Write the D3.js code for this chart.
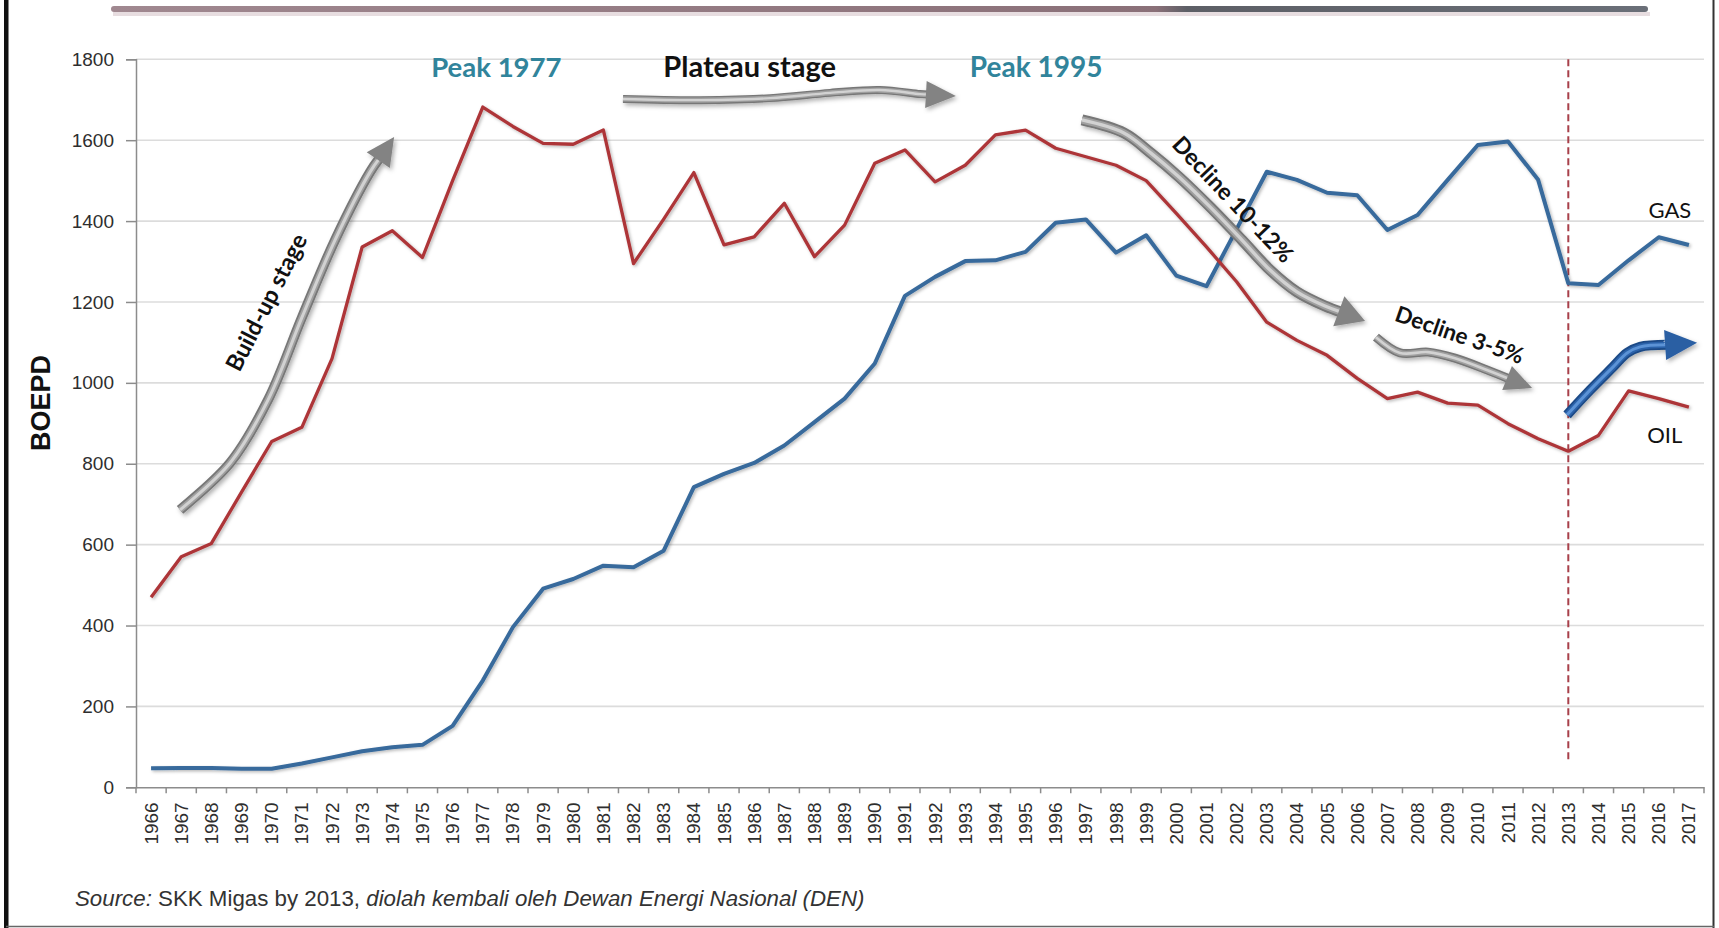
<!DOCTYPE html>
<html><head><meta charset="utf-8">
<script src="https://cdn.jsdelivr.net/npm/d3@7"></script>
<style>html,body{margin:0;padding:0;background:#fff;} svg{display:block;}</style>
</head><body><svg id="chart" width="1719" height="928"></svg>
<script>
// ---- data ----
const years = [1966,1967,1968,1969,1970,1971,1972,1973,1974,1975,1976,1977,1978,1979,1980,1981,1982,1983,1984,1985,1986,1987,1988,1989,1990,1991,1992,1993,1994,1995,1996,1997,1998,1999,2000,2001,2002,2003,2004,2005,2006,2007,2008,2009,2010,2011,2012,2013,2014,2015,2016,2017];
const oil = [470,570,603,730,855,890,1060,1336,1376,1310,1500,1682,1634,1592,1590,1625,1295,1405,1520,1341,1361,1444,1312,1390,1543,1576,1497,1538,1613,1625,1580,1559,1538,1500,1419,1336,1250,1150,1105,1068,1011,961,977,950,945,899,862,831,870,980,961,940];
const gas = [47,48,48,46,46,59,74,89,99,105,152,264,396,491,515,548,544,585,742,775,802,845,903,961,1048,1215,1262,1301,1303,1324,1396,1404,1322,1365,1265,1239,1380,1522,1502,1470,1464,1378,1415,1502,1588,1597,1502,1246,1242,1303,1360,1341];
const yTicks = [0,200,400,600,800,1000,1200,1400,1600,1800];
const yTitle = "BOEPD";
const seriesLabels = [
  {text:"GAS", year:2016.37, value:1408},
  {text:"OIL", year:2016.2, value:851}
];
const stageLabels = [
  {text:"Peak 1977", year:1977.45, value:1756, angle:0, color:"#31849B", size:27.5},
  {text:"Plateau stage", year:1985.85, value:1756, angle:0, color:"#111", size:29},
  {text:"Peak 1995", year:1995.35, value:1756, angle:0, color:"#31849B", size:28},
  {text:"Build-up stage", year:1969.8, value:1200, angle:-63, color:"#111", size:23.5},
  {text:"Decline 10-12%", year:2001.9, value:1455, angle:46.5, color:"#111", size:23},
  {text:"Decline 3-5%", year:2009.4, value:1120, angle:19, color:"#111", size:22.5}
];
const arrowBuild = [[1966.96,686],[1968.62,802],[1969.88,958],[1971.01,1163],[1972.1,1353],[1973.26,1521],[1974.06,1608]];
const arrowPlateau = [[1981.65,1702],[1984.2,1699],[1986.53,1704],[1988.52,1717],[1990.17,1724],[1991.5,1714],[1992.69,1709]];
const arrowDecline1 = [[1996.87,1650],[1998.26,1618],[1999.16,1568],[2000.09,1509],[2001.12,1435],[2002.18,1353],[2003.11,1279],[2004.0,1225],[2004.93,1190],[2006.26,1153]];
const arrowDecline2 = [[2006.62,1113],[2007.42,1074],[2008.35,1076],[2009.24,1061],[2010.3,1032],[2011.8,987]];
const arrowGas = [[2012.96,921],[2013.72,982],[2014.48,1039],[2014.95,1074],[2015.38,1089],[2016.28,1094],[2017.27,1099]];
const cutoffYear = 2013;
const cutoffRange = [60, 1800];
const sourceParts = [
  {text:"Source:", italic:true},
  {text:" SKK Migas by 2013, ", italic:false},
  {text:"diolah kembali oleh Dewan Energi Nasional (DEN)", italic:true}
];

// ---- layout ----
const svg = d3.select("#chart");
const W = 1719, H = 928;
const plotLeft = 136, plotRight = 1704, plotTop = 59.3, plotBottom = 787.3;

const x = d3.scaleBand().domain(years).range([plotLeft, plotRight]).paddingInner(0).paddingOuter(0);
const xl = d3.scaleLinear().domain([years[0]-0.5, years[years.length-1]+0.5]).range([plotLeft, plotRight]);
const y = d3.scaleLinear().domain([0, 1800]).range([plotBottom, plotTop]);

const defs = svg.append("defs");
const sh = defs.append("filter").attr("id","shadow").attr("x","-10%").attr("y","-10%").attr("width","120%").attr("height","120%");
sh.append("feDropShadow").attr("dx",1.5).attr("dy",1.5).attr("stdDeviation",1.6).attr("flood-color","#000").attr("flood-opacity",0.28);
const ash = defs.append("filter").attr("id","ashadow").attr("x","-20%").attr("y","-20%").attr("width","140%").attr("height","140%");
ash.append("feDropShadow").attr("dx",2).attr("dy",2.5).attr("stdDeviation",2).attr("flood-color","#000").attr("flood-opacity",0.3);
const blur = defs.append("filter").attr("id","soft");
blur.append("feGaussianBlur").attr("stdDeviation",0.5);

const topGrad = defs.append("linearGradient").attr("id","topbar").attr("x1","0").attr("x2","1").attr("y1","0").attr("y2","0");
topGrad.append("stop").attr("offset","0").attr("stop-color","#a08890");
topGrad.append("stop").attr("offset","0.68").attr("stop-color","#8a7078");
topGrad.append("stop").attr("offset","0.70").attr("stop-color","#5d5f66");
topGrad.append("stop").attr("offset","1").attr("stop-color","#6a6f78");

// borders / decoration
svg.append("rect").attr("x",0).attr("y",0).attr("width",W).attr("height",H).attr("fill","#fff");
svg.append("rect").attr("x",113).attr("y",12).attr("width",1537).attr("height",4).attr("fill","#d8c8cc").attr("opacity",0.6).attr("filter","url(#soft)");
svg.append("rect").attr("x",111).attr("y",6).attr("width",1537).attr("height",6).attr("rx",3).attr("fill","url(#topbar)");
svg.append("rect").attr("x",4).attr("y",0).attr("width",4.5).attr("height",H).attr("fill","#111");
svg.append("line").attr("x1",1713.5).attr("x2",1713.5).attr("y1",0).attr("y2",H).attr("stroke","#333").attr("stroke-width",2);
svg.append("line").attr("x1",6).attr("x2",1714).attr("y1",926.5).attr("y2",926.5).attr("stroke","#666").attr("stroke-width",1.5);

// gridlines
svg.append("g").selectAll("line").data(yTicks.filter(d=>d>0)).join("line")
  .attr("x1",plotLeft).attr("x2",plotRight).attr("y1",d=>y(d)).attr("y2",d=>y(d))
  .attr("stroke","#dcdcdc").attr("stroke-width",1.6);

// y axis
const yAxis = svg.append("g").attr("transform",`translate(${plotLeft},0)`)
  .call(d3.axisLeft(y).tickValues(yTicks).tickSize(10).tickPadding(12).tickFormat(d3.format("d")));
yAxis.select(".domain").attr("stroke","#8c8c8c").attr("stroke-width",1.5);
yAxis.selectAll(".tick line").attr("stroke","#8c8c8c").attr("stroke-width",1.5);
yAxis.selectAll(".tick text").attr("font-family","'Liberation Sans', Arial, sans-serif").attr("font-size",19).attr("fill","#2e2e2e");

// x axis
const xAxis = svg.append("g").attr("transform",`translate(0,${plotBottom})`)
  .call(d3.axisBottom(x).tickSize(0).tickPadding(0));
xAxis.select(".domain").attr("stroke","#8c8c8c").attr("stroke-width",1.5);
xAxis.selectAll(".tick text")
  .attr("font-family","'Liberation Sans', Arial, sans-serif").attr("font-size",19).attr("fill","#2e2e2e")
  .attr("text-anchor","end").attr("dominant-baseline","central")
  .attr("transform","translate(0,15) rotate(-90)").attr("x",0).attr("y",0).attr("dy",null);
svg.append("g").selectAll("line").data(years.concat([null])).join("line")
  .attr("x1",d=>d===null?plotRight:x(d)).attr("x2",d=>d===null?plotRight:x(d))
  .attr("y1",plotBottom).attr("y2",plotBottom+6).attr("stroke","#8c8c8c").attr("stroke-width",1.5);

// y title
svg.append("text").attr("transform",`translate(41,403) rotate(-90)`)
  .attr("text-anchor","middle").attr("dominant-baseline","central")
  .attr("font-family","'Liberation Sans', Arial, sans-serif").attr("font-weight","bold").attr("font-size",27).attr("fill","#111")
  .text(yTitle);

// cutoff dashed line
svg.append("line").attr("x1",xl(cutoffYear)).attr("x2",xl(cutoffYear))
  .attr("y1",y(cutoffRange[1])).attr("y2",y(cutoffRange[0]))
  .attr("stroke","#a8404a").attr("stroke-width",2).attr("stroke-dasharray","7,4");

// series lines
const line = d3.line().x((d,i)=>x(years[i])+x.bandwidth()/2).y(d=>y(d));
svg.append("path").datum(gas).attr("d",line).attr("fill","none").attr("stroke","#386a9c").attr("stroke-width",4).attr("stroke-linejoin","round").attr("filter","url(#shadow)");
svg.append("path").datum(oil).attr("d",line).attr("fill","none").attr("stroke","#ad3538").attr("stroke-width",3.3).attr("stroke-linejoin","round").attr("filter","url(#shadow)");

// arrows
function drawArrow(pts, o){
  const P = pts.map(p=>[xl(p[0]), y(p[1])]);
  const tip = P[P.length-1], prev = P[P.length-2];
  const dx = tip[0]-prev[0], dy = tip[1]-prev[1], L = Math.hypot(dx,dy);
  const ux = dx/L, uy = dy/L, px = -uy, py = ux;
  const base = [tip[0]-ux*o.headLen, tip[1]-uy*o.headLen];
  const shaft = P.slice(0,-1).concat([[base[0]+ux*2, base[1]+uy*2]]);
  const g = svg.append("g").attr("filter","url(#ashadow)");
  const lg = d3.line().curve(d3.curveCatmullRom.alpha(0.5));
  g.append("path").attr("d",lg(shaft)).attr("fill","none").attr("stroke",o.dark).attr("stroke-width",o.w).attr("stroke-linecap","butt");
  g.append("path").attr("d",lg(shaft)).attr("fill","none").attr("stroke",o.mid).attr("stroke-width",o.w*0.65).attr("stroke-linecap","butt");
  g.append("path").attr("d",lg(shaft)).attr("fill","none").attr("stroke",o.light).attr("stroke-width",o.w*0.3).attr("stroke-linecap","butt");
  const hw = o.headW/2;
  g.append("path").attr("d",`M${tip[0]},${tip[1]}L${base[0]+px*hw},${base[1]+py*hw}L${base[0]-px*hw},${base[1]-py*hw}Z`).attr("fill",o.head);
}
const grayStyle = {dark:"#777", mid:"#a0a0a0", light:"#d2d2d2", head:"#838383"};
drawArrow(arrowBuild, Object.assign({w:10, headLen:28, headW:28}, grayStyle));
drawArrow(arrowPlateau, Object.assign({w:8, headLen:30, headW:27}, grayStyle));
drawArrow(arrowDecline1, Object.assign({w:11, headLen:28, headW:32}, grayStyle));
drawArrow(arrowDecline2, Object.assign({w:9, headLen:27, headW:26}, grayStyle));
drawArrow(arrowGas, {w:10, headLen:32, headW:30, dark:"#1c4a86", mid:"#2c62aa", light:"#5b93d6", head:"#2a5ea3"});

// stage labels
svg.append("g").selectAll("text").data(stageLabels).join("text")
  .attr("transform",d=>`translate(${xl(d.year)},${y(d.value)}) rotate(${d.angle})`)
  .attr("text-anchor","middle").attr("dominant-baseline",d=>d.angle===0?"alphabetic":"central")
  .attr("font-family","Lato, 'Open Sans', sans-serif").attr("font-weight","bold")
  .attr("font-size",d=>d.size).attr("fill",d=>d.color).text(d=>d.text);

// series labels
svg.append("g").selectAll("text").data(seriesLabels).join("text")
  .attr("x",d=>xl(d.year)).attr("y",d=>y(d.value)).attr("text-anchor","middle")
  .attr("font-family","Lato, 'Open Sans', sans-serif").attr("font-size",22).attr("fill","#111").text(d=>d.text);

// source
const src = svg.append("text").attr("x",75).attr("y",906)
  .attr("font-family","'Liberation Sans', Arial, sans-serif").attr("font-size",22.3).attr("fill","#333");
src.selectAll("tspan").data(sourceParts).join("tspan")
  .attr("font-style",d=>d.italic?"italic":"normal").text(d=>d.text);
</script></body></html>
